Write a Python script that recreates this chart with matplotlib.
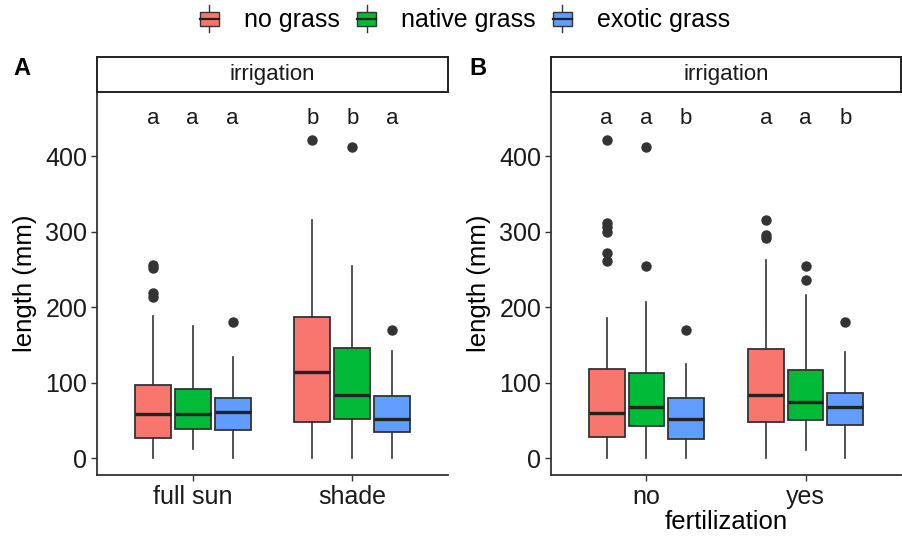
import matplotlib
matplotlib.use("Agg")
import matplotlib.pyplot as plt
from matplotlib.patches import Rectangle
from matplotlib.lines import Line2D
from matplotlib.legend_handler import HandlerBase

plt.rcParams['font.family'] = ['Liberation Sans', 'DejaVu Sans']

# data
grass = ['no grass', 'native grass', 'exotic grass']
colors = ['#F8766D', '#00BA38', '#619CFF']

cats_a = ['full sun', 'shade']
cats_b = ['no', 'yes']

# per panel: [category][grass] -> (whislo, q1, med, q3, whishi)
stats_a = [
    [(0, 27, 58, 97, 188), (12, 38, 58, 92, 175), (0, 37, 61, 80, 134)],
    [(0, 48, 114, 187, 316), (0, 52, 84, 146, 255), (0, 34, 52, 82, 142)],
]
fliers_a = [
    [[256, 252, 218, 214], [], [180]],
    [[421], [412], [169]],
]
letters_a = [['a', 'a', 'a'], ['b', 'b', 'a']]

stats_b = [
    [(0, 28, 60, 118, 186), (0, 42, 68, 113, 207), (0, 25, 52, 80, 124)],
    [(0, 48, 84, 144, 262), (10, 50, 74, 117, 216), (0, 44, 67, 86, 141)],
]
fliers_b = [
    [[421, 311, 306, 300, 272, 261], [412, 255], [169]],
    [[316, 295, 292], [255, 236], [180]],
]
letters_b = [['a', 'a', 'b'], ['a', 'a', 'b']]

yticks = [0, 100, 200, 300, 400]
edge = '#333333'


def draw_panel(ax, cats, stats, fliers, letters):
    for i in range(len(cats)):
        for j in range(len(grass)):
            lo, q1, med, q3, hi = stats[i][j]
            pos = i + 1 + (j - 1) * 0.25
            st = dict(whislo=lo, q1=q1, med=med, q3=q3, whishi=hi,
                      fliers=fliers[i][j])
            ax.bxp([st], positions=[pos], widths=0.225, patch_artist=True,
                   showcaps=False,
                   boxprops=dict(facecolor=colors[j], edgecolor=edge, linewidth=1.3),
                   medianprops=dict(color='#222222', linewidth=2.4),
                   whiskerprops=dict(color=edge, linewidth=1.2),
                   flierprops=dict(marker='o', markerfacecolor=edge,
                                   markeredgecolor=edge, markersize=6.5))
            ax.text(pos, 450, letters[i][j], ha='center', va='center',
                    fontsize=16, color='#1a1a1a')
    ax.set_xlim(0.4, 2.6)
    ax.set_ylim(-22.5, 485)
    ax.set_xticks([1, 2])
    ax.set_xticklabels(cats)
    ax.set_yticks(yticks)
    ax.set_ylabel('length (mm)', fontsize=18.5, labelpad=6)
    for s in ['top', 'right']:
        ax.spines[s].set_visible(False)
    for s in ['left', 'bottom']:
        ax.spines[s].set_linewidth(1.3)
        ax.spines[s].set_color(edge)
    ax.tick_params(axis='both', labelsize=18, colors=edge, labelcolor='#1a1a1a',
                   length=4, width=1.0, pad=3)


def draw_strip(fig, rect, label):
    sax = fig.add_axes(rect)
    sax.set_xticks([])
    sax.set_yticks([])
    for s in sax.spines.values():
        s.set_linewidth(1.4)
        s.set_color('#222222')
    sax.text(0.5, 0.5, label, ha='center', va='center', fontsize=16,
             color='#1a1a1a', transform=sax.transAxes)


class BoxHandler(HandlerBase):
    def create_artists(self, legend, orig_handle, xdescent, ydescent,
                       width, height, fontsize, trans):
        cx = width / 2 - xdescent
        bw = width
        bh = height * 0.75
        cy = height / 2 - ydescent
        vline = Line2D([cx, cx], [cy - height * 0.7, cy + height * 0.7],
                       color=edge, linewidth=1.0, transform=trans)
        rect = Rectangle((cx - bw / 2, cy - bh / 2), bw, bh,
                         facecolor=orig_handle.get_facecolor(), edgecolor=edge,
                         linewidth=1.0, transform=trans)
        mline = Line2D([cx - bw / 2, cx + bw / 2], [cy, cy], color='#222222',
                       linewidth=1.6, transform=trans)
        return [vline, rect, mline]


fig = plt.figure(figsize=(9.03, 5.36), dpi=100)

ax_a = fig.add_axes([0.1074, 0.1138, 0.3887, 0.7146])
ax_b = fig.add_axes([0.6102, 0.1138, 0.3876, 0.7146])
draw_panel(ax_a, cats_a, stats_a, fliers_a, letters_a)
draw_panel(ax_b, cats_b, stats_b, fliers_b, letters_b)
ax_b.set_xlabel('fertilization', fontsize=18.5, labelpad=1)

draw_strip(fig, [0.1074, 0.8284, 0.3887, 0.0653], 'irrigation')
draw_strip(fig, [0.6102, 0.8284, 0.3876, 0.0653], 'irrigation')

fig.text(0.015, 0.873, 'A', fontsize=17, fontweight='bold', va='center')
fig.text(0.52, 0.873, 'B', fontsize=17, fontweight='bold', va='center')

handles = [Rectangle((0, 0), 1, 1, facecolor=c) for c in colors]
fig.legend(handles, grass, handler_map={Rectangle: BoxHandler()},
           loc='center', bbox_to_anchor=(0.515, 0.962), ncol=3, frameon=False,
           fontsize=18, handlelength=0.75, handleheight=0.8, handletextpad=1.0,
           columnspacing=0.7, borderaxespad=0)

fig.savefig('out.png', dpi=100)
